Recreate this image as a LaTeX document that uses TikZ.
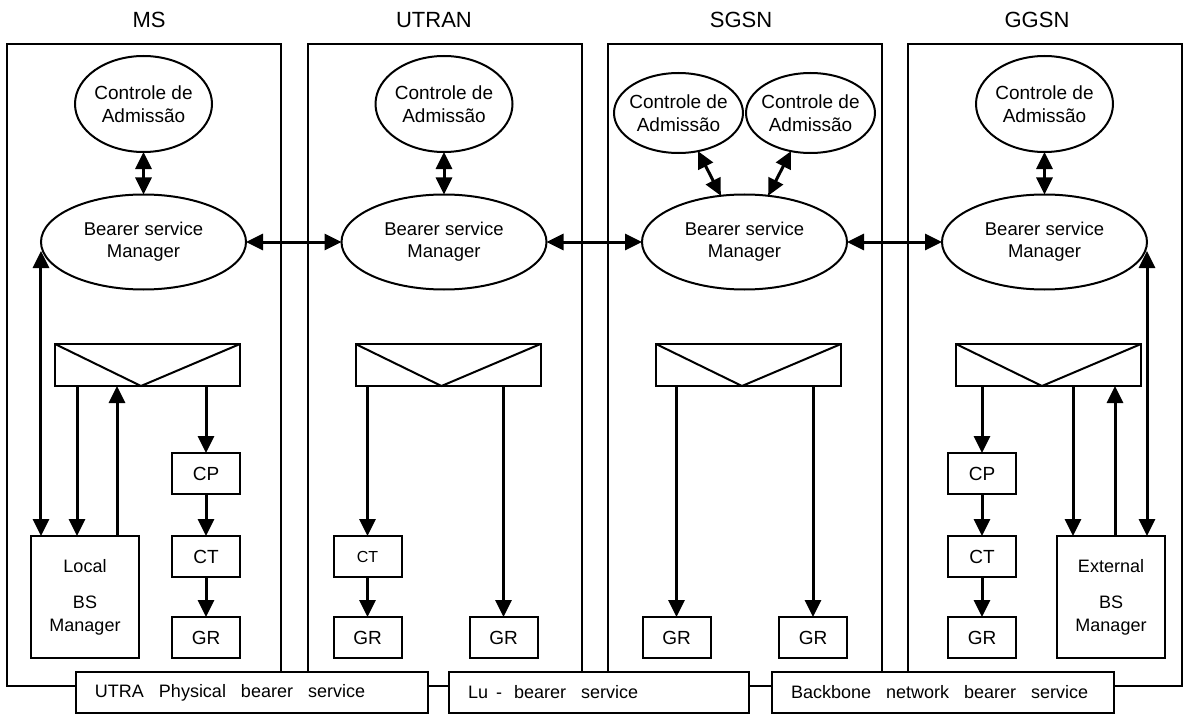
\documentclass[tikz,border=0pt]{standalone}
\usepackage{fontspec}
\setmainfont{Liberation Sans}
\usetikzlibrary{arrows.meta,shapes.geometric}
\newcommand\fsz[2]{\fontsize{#1bp}{#2bp}\selectfont}
% wide gap between the words of the bearer service names
\newcommand\wsp{\hspace{15bp}}

\begin{document}
\begin{tikzpicture}[x=1bp,y=-1bp,
  every node/.style={inner sep=0pt, outer sep=0pt},
  frame line/.style={line width=2bp},
  column/.style={draw, frame line, minimum width=274bp, minimum height=642bp},
  header/.style={font=\fsz{22}{26}},
  admission/.style={draw, frame line, ellipse, inner xsep=-14bp, minimum width=137bp, minimum height=96bp, align=center, font=\fsz{19}{23}},
  admsmall/.style={admission, minimum width=129bp, minimum height=80bp},
  manager/.style={draw, frame line, ellipse, minimum width=205bp, minimum height=95bp, align=center, font=\fsz{18.5}{22}},
  classifier/.style={draw, frame line, minimum width=185bp, minimum height=42bp},
  unit/.style={draw, frame line, minimum width=68bp, minimum height=41bp, font=\fsz{19}{23}},
  bsm/.style={draw, frame line, minimum width=108bp, minimum height=122bp, align=center, font=\fsz{18}{23}},
  bearer/.style={draw, frame line, fill=white, minimum height=41bp, inner xsep=19bp, align=left, font=\fsz{18}{22}},
  link/.style={line width=3bp, -{Triangle[length=17bp,width=16bp]}},
  biglink/.style={line width=3bp, {Triangle[length=17bp,width=16bp]}-{Triangle[length=17bp,width=16bp]}}
]
\useasboundingbox (0,0) rectangle (1184,715);

% network elements
\node[column] (ms)    at (144,365) {};
\node[column] (utran) at (445,365) {};
\node[column] (sgsn)  at (745,365) {};
\node[column] (ggsn)  at (1045,365) {};

\node[header] (hms)    at (149,20)  {MS};
\node[header] (hutran) at (434,20)  {UTRAN};
\node[header] (hsgsn)  at (741,20)  {SGSN};
\node[header] (hggsn)  at (1037,20) {GGSN};

% admission control
\node[admission] (adm1)  at (143.5,104)  {Controle de\\Admissão};
\node[admission] (adm2)  at (444,104)    {Controle de\\Admissão};
\node[admsmall]  (adm3a) at (678.5,113)  {Controle de\\Admissão};
\node[admsmall]  (adm3b) at (810.5,113)  {Controle de\\Admissão};
\node[admission] (adm4)  at (1044.5,104) {Controle de\\Admissão};

% bearer service managers
\node[manager] (mgr1) at (143.5,242)  {Bearer service\\Manager};
\node[manager] (mgr2) at (444,242)    {Bearer service\\Manager};
\node[manager] (mgr3) at (744.5,242)  {Bearer service\\Manager};
\node[manager] (mgr4) at (1044.5,242) {Bearer service\\Manager};

% classifiers
\node[classifier] (cls1) at (147.5,365)  {};
\node[classifier] (cls2) at (448,365)    {};
\node[classifier] (cls3) at (748.5,365)  {};
\node[classifier] (cls4) at (1048.5,365) {};
\foreach \c in {cls1,cls2,cls3,cls4}
  \draw[frame line] (\c.north west) -- ([xshift=-6.5bp]\c.south) -- (\c.north east);

% MS functions
\node[unit] (cp1) at (206,473.5) {CP};
\node[unit] (ct1) at (206,556.5) {CT};
\node[unit] (gr1) at (206,637.5) {GR};
\node[bsm]  (lbs) at (85,597) {Local\\[13bp]BS\\Manager};

% UTRAN functions
\node[unit, font=\fsz{16}{20}] (ct2) at (367.5,556.5) {CT};
\node[unit] (gr2) at (367.5,637.5) {GR};
\node[unit] (gr3) at (503.5,637.5) {GR};

% SGSN functions
\node[unit] (gr4) at (676.5,637.5) {GR};
\node[unit] (gr5) at (813,637.5)   {GR};

% GGSN functions
\node[unit] (cp2) at (982,473.5) {CP};
\node[unit] (ct3) at (982,556.5) {CT};
\node[unit] (gr6) at (982,637.5) {GR};
\node[bsm]  (ebs) at (1111,597) {External\\[13bp]BS\\Manager};

% bearer services along the bottom
\node[bearer, text width=314bp] (utra) at (252,692.5) {UTRA\wsp Physical\wsp bearer\wsp service};
\node[bearer, text width=262bp] (lu)   at (599,692.5) {Lu\hspace{8bp}-\hspace{12bp}bearer\wsp service};
\node[bearer, text width=304bp] (bb)   at (943,692.5) {Backbone\wsp network\wsp bearer\wsp service};

% admission <-> manager
\draw[biglink] (adm1) -- (mgr1);
\draw[biglink] (adm2) -- (mgr2);
\draw[biglink] (adm3a) -- (mgr3);
\draw[biglink] (adm3b) -- (mgr3);
\draw[biglink] (adm4) -- (mgr4);

% manager <-> manager
\draw[biglink] (mgr1) -- (mgr2);
\draw[biglink] (mgr2) -- (mgr3);
\draw[biglink] (mgr3) -- (mgr4);

% MS flows
\draw[biglink] (mgr1.west |- lbs.north) -- ([yshift=-9bp]mgr1.west);
\draw[link] (cls1.south -| 77,0) -- (lbs.north -| 77,0);
\draw[link] (lbs.north -| 117,0) -- (cls1.south -| 117,0);
\draw[link] (cls1.south -| cp1.north) -- (cp1.north);
\draw[link] (cp1) -- (ct1);
\draw[link] (ct1) -- (gr1);

% UTRAN flows
\draw[link] (cls2.south -| ct2.north) -- (ct2.north);
\draw[link] (ct2) -- (gr2);
\draw[link] (cls2.south -| gr3.north) -- (gr3.north);

% SGSN flows
\draw[link] (cls3.south -| gr4.north) -- (gr4.north);
\draw[link] (cls3.south -| gr5.north) -- (gr5.north);

% GGSN flows
\draw[link] (cls4.south -| cp2.north) -- (cp2.north);
\draw[link] (cp2) -- (ct3);
\draw[link] (ct3) -- (gr6);
\draw[link] (cls4.south -| 1073,0) -- (ebs.north -| 1073,0);
\draw[link] (ebs.north -| 1115,0) -- (cls4.south -| 1115,0);
\draw[biglink] (mgr4.east |- ebs.north) -- ([yshift=-9bp]mgr4.east);
\end{tikzpicture}
\end{document}
